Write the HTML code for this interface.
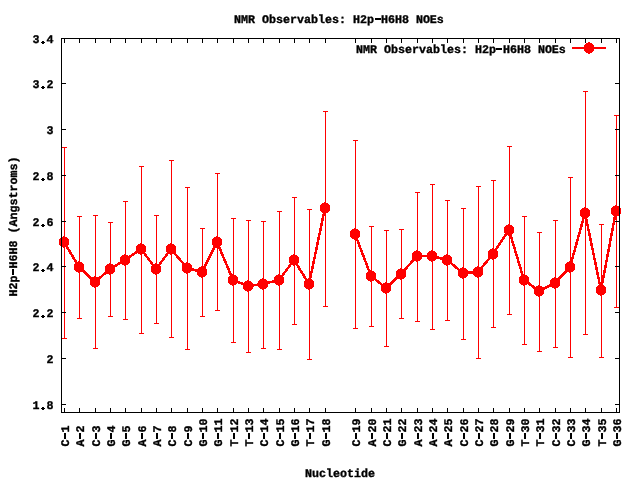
<!DOCTYPE html><html><head><meta charset="utf-8"><style>html,body{margin:0;padding:0;background:#fff;width:640px;height:480px;overflow:hidden}svg{display:block;will-change:transform}text{font-family:"Liberation Mono",monospace;font-weight:bold;font-size:11.67px;text-rendering:geometricPrecision;fill:#000;stroke:#000;stroke-width:0.35px}.h{fill:transparent;stroke:transparent}</style></head><body>
<svg width="640" height="480" viewBox="0 0 640 480">
<rect width="640" height="480" fill="#fff"/>
<path d="M64.5 147.5V338.5M62 147.5H67M62 338.5H67M79.5 216.5V318.5M77 216.5H82M77 318.5H82M95.5 215.5V348.5M93 215.5H98M93 348.5H98M110.5 222.5V316.5M108 222.5H113M108 316.5H113M125.5 201.5V319.5M123 201.5H128M123 319.5H128M141.5 166.5V333.5M139 166.5H144M139 333.5H144M156.5 215.5V323.5M154 215.5H159M154 323.5H159M171.5 160.5V337.5M169 160.5H174M169 337.5H174M187.5 187.5V349.5M185 187.5H190M185 349.5H190M202.5 228.5V316.5M200 228.5H205M200 316.5H205M217.5 173.5V310.5M215 173.5H220M215 310.5H220M233.5 218.5V342.5M231 218.5H236M231 342.5H236M248.5 220.5V352.5M246 220.5H251M246 352.5H251M263.5 221.5V348.5M261 221.5H266M261 348.5H266M279.5 211.5V349.5M277 211.5H282M277 349.5H282M294.5 197.5V324.5M292 197.5H297M292 324.5H297M309.5 209.5V359.5M307 209.5H312M307 359.5H312M325.5 111.5V306.5M323 111.5H328M323 306.5H328M355.5 140.5V328.5M353 140.5H358M353 328.5H358M371.5 226.5V326.5M369 226.5H374M369 326.5H374M386.5 230.5V346.5M384 230.5H389M384 346.5H389M401.5 229.5V318.5M399 229.5H404M399 318.5H404M417.5 192.5V321.5M415 192.5H420M415 321.5H420M432.5 184.5V329.5M430 184.5H435M430 329.5H435M447.5 200.5V320.5M445 200.5H450M445 320.5H450M463.5 208.5V339.5M461 208.5H466M461 339.5H466M478.5 186.5V358.5M476 186.5H481M476 358.5H481M493.5 180.5V327.5M491 180.5H496M491 327.5H496M509.5 146.5V314.5M507 146.5H512M507 314.5H512M524.5 216.5V344.5M522 216.5H527M522 344.5H527M539.5 232.5V351.5M537 232.5H542M537 351.5H542M555.5 220.5V347.5M553 220.5H558M553 347.5H558M570.5 177.5V357.5M568 177.5H573M568 357.5H573M585.5 91.5V334.5M583 91.5H588M583 334.5H588M601.5 224.5V357.5M599 224.5H604M599 357.5H604M616.5 115.5V307.5M614 115.5H619M614 307.5H619" stroke="#f00" stroke-width="1" fill="none" shape-rendering="crispEdges"/>
<polyline points="64,242 79,267 95,282 110,269 125,260 141,249 156,269 171,249 187,268 202,272 217,242 233,280 248,286 263,284 279,280 294,260 309,284 325,208" stroke="#f00" stroke-width="2.5" fill="none" stroke-linejoin="miter" shape-rendering="crispEdges"/>
<polyline points="355,234 371,276 386,288 401,274 417,256 432,256 447,260 463,273 478,272 493,254 509,230 524,280 539,291 555,283 570,267 585,213 601,290 616,211" stroke="#f00" stroke-width="2.5" fill="none" stroke-linejoin="miter" shape-rendering="crispEdges"/>
<path d="M63 236L65 236L65 237L67 237L67 238L68 238L68 239L69 239L69 245L68 245L68 246L67 246L67 247L65 247L65 248L63 248L63 247L61 247L61 246L60 246L60 245L59 245L59 239L60 239L60 238L61 238L61 237L63 237ZM78 261L80 261L80 262L82 262L82 263L83 263L83 264L84 264L84 270L83 270L83 271L82 271L82 272L80 272L80 273L78 273L78 272L76 272L76 271L75 271L75 270L74 270L74 264L75 264L75 263L76 263L76 262L78 262ZM94 276L96 276L96 277L98 277L98 278L99 278L99 279L100 279L100 285L99 285L99 286L98 286L98 287L96 287L96 288L94 288L94 287L92 287L92 286L91 286L91 285L90 285L90 279L91 279L91 278L92 278L92 277L94 277ZM109 263L111 263L111 264L113 264L113 265L114 265L114 266L115 266L115 272L114 272L114 273L113 273L113 274L111 274L111 275L109 275L109 274L107 274L107 273L106 273L106 272L105 272L105 266L106 266L106 265L107 265L107 264L109 264ZM124 254L126 254L126 255L128 255L128 256L129 256L129 257L130 257L130 263L129 263L129 264L128 264L128 265L126 265L126 266L124 266L124 265L122 265L122 264L121 264L121 263L120 263L120 257L121 257L121 256L122 256L122 255L124 255ZM140 243L142 243L142 244L144 244L144 245L145 245L145 246L146 246L146 252L145 252L145 253L144 253L144 254L142 254L142 255L140 255L140 254L138 254L138 253L137 253L137 252L136 252L136 246L137 246L137 245L138 245L138 244L140 244ZM155 263L157 263L157 264L159 264L159 265L160 265L160 266L161 266L161 272L160 272L160 273L159 273L159 274L157 274L157 275L155 275L155 274L153 274L153 273L152 273L152 272L151 272L151 266L152 266L152 265L153 265L153 264L155 264ZM170 243L172 243L172 244L174 244L174 245L175 245L175 246L176 246L176 252L175 252L175 253L174 253L174 254L172 254L172 255L170 255L170 254L168 254L168 253L167 253L167 252L166 252L166 246L167 246L167 245L168 245L168 244L170 244ZM186 262L188 262L188 263L190 263L190 264L191 264L191 265L192 265L192 271L191 271L191 272L190 272L190 273L188 273L188 274L186 274L186 273L184 273L184 272L183 272L183 271L182 271L182 265L183 265L183 264L184 264L184 263L186 263ZM201 266L203 266L203 267L205 267L205 268L206 268L206 269L207 269L207 275L206 275L206 276L205 276L205 277L203 277L203 278L201 278L201 277L199 277L199 276L198 276L198 275L197 275L197 269L198 269L198 268L199 268L199 267L201 267ZM216 236L218 236L218 237L220 237L220 238L221 238L221 239L222 239L222 245L221 245L221 246L220 246L220 247L218 247L218 248L216 248L216 247L214 247L214 246L213 246L213 245L212 245L212 239L213 239L213 238L214 238L214 237L216 237ZM232 274L234 274L234 275L236 275L236 276L237 276L237 277L238 277L238 283L237 283L237 284L236 284L236 285L234 285L234 286L232 286L232 285L230 285L230 284L229 284L229 283L228 283L228 277L229 277L229 276L230 276L230 275L232 275ZM247 280L249 280L249 281L251 281L251 282L252 282L252 283L253 283L253 289L252 289L252 290L251 290L251 291L249 291L249 292L247 292L247 291L245 291L245 290L244 290L244 289L243 289L243 283L244 283L244 282L245 282L245 281L247 281ZM262 278L264 278L264 279L266 279L266 280L267 280L267 281L268 281L268 287L267 287L267 288L266 288L266 289L264 289L264 290L262 290L262 289L260 289L260 288L259 288L259 287L258 287L258 281L259 281L259 280L260 280L260 279L262 279ZM278 274L280 274L280 275L282 275L282 276L283 276L283 277L284 277L284 283L283 283L283 284L282 284L282 285L280 285L280 286L278 286L278 285L276 285L276 284L275 284L275 283L274 283L274 277L275 277L275 276L276 276L276 275L278 275ZM293 254L295 254L295 255L297 255L297 256L298 256L298 257L299 257L299 263L298 263L298 264L297 264L297 265L295 265L295 266L293 266L293 265L291 265L291 264L290 264L290 263L289 263L289 257L290 257L290 256L291 256L291 255L293 255ZM308 278L310 278L310 279L312 279L312 280L313 280L313 281L314 281L314 287L313 287L313 288L312 288L312 289L310 289L310 290L308 290L308 289L306 289L306 288L305 288L305 287L304 287L304 281L305 281L305 280L306 280L306 279L308 279ZM324 202L326 202L326 203L328 203L328 204L329 204L329 205L330 205L330 211L329 211L329 212L328 212L328 213L326 213L326 214L324 214L324 213L322 213L322 212L321 212L321 211L320 211L320 205L321 205L321 204L322 204L322 203L324 203ZM354 228L356 228L356 229L358 229L358 230L359 230L359 231L360 231L360 237L359 237L359 238L358 238L358 239L356 239L356 240L354 240L354 239L352 239L352 238L351 238L351 237L350 237L350 231L351 231L351 230L352 230L352 229L354 229ZM370 270L372 270L372 271L374 271L374 272L375 272L375 273L376 273L376 279L375 279L375 280L374 280L374 281L372 281L372 282L370 282L370 281L368 281L368 280L367 280L367 279L366 279L366 273L367 273L367 272L368 272L368 271L370 271ZM385 282L387 282L387 283L389 283L389 284L390 284L390 285L391 285L391 291L390 291L390 292L389 292L389 293L387 293L387 294L385 294L385 293L383 293L383 292L382 292L382 291L381 291L381 285L382 285L382 284L383 284L383 283L385 283ZM400 268L402 268L402 269L404 269L404 270L405 270L405 271L406 271L406 277L405 277L405 278L404 278L404 279L402 279L402 280L400 280L400 279L398 279L398 278L397 278L397 277L396 277L396 271L397 271L397 270L398 270L398 269L400 269ZM416 250L418 250L418 251L420 251L420 252L421 252L421 253L422 253L422 259L421 259L421 260L420 260L420 261L418 261L418 262L416 262L416 261L414 261L414 260L413 260L413 259L412 259L412 253L413 253L413 252L414 252L414 251L416 251ZM431 250L433 250L433 251L435 251L435 252L436 252L436 253L437 253L437 259L436 259L436 260L435 260L435 261L433 261L433 262L431 262L431 261L429 261L429 260L428 260L428 259L427 259L427 253L428 253L428 252L429 252L429 251L431 251ZM446 254L448 254L448 255L450 255L450 256L451 256L451 257L452 257L452 263L451 263L451 264L450 264L450 265L448 265L448 266L446 266L446 265L444 265L444 264L443 264L443 263L442 263L442 257L443 257L443 256L444 256L444 255L446 255ZM462 267L464 267L464 268L466 268L466 269L467 269L467 270L468 270L468 276L467 276L467 277L466 277L466 278L464 278L464 279L462 279L462 278L460 278L460 277L459 277L459 276L458 276L458 270L459 270L459 269L460 269L460 268L462 268ZM477 266L479 266L479 267L481 267L481 268L482 268L482 269L483 269L483 275L482 275L482 276L481 276L481 277L479 277L479 278L477 278L477 277L475 277L475 276L474 276L474 275L473 275L473 269L474 269L474 268L475 268L475 267L477 267ZM492 248L494 248L494 249L496 249L496 250L497 250L497 251L498 251L498 257L497 257L497 258L496 258L496 259L494 259L494 260L492 260L492 259L490 259L490 258L489 258L489 257L488 257L488 251L489 251L489 250L490 250L490 249L492 249ZM508 224L510 224L510 225L512 225L512 226L513 226L513 227L514 227L514 233L513 233L513 234L512 234L512 235L510 235L510 236L508 236L508 235L506 235L506 234L505 234L505 233L504 233L504 227L505 227L505 226L506 226L506 225L508 225ZM523 274L525 274L525 275L527 275L527 276L528 276L528 277L529 277L529 283L528 283L528 284L527 284L527 285L525 285L525 286L523 286L523 285L521 285L521 284L520 284L520 283L519 283L519 277L520 277L520 276L521 276L521 275L523 275ZM538 285L540 285L540 286L542 286L542 287L543 287L543 288L544 288L544 294L543 294L543 295L542 295L542 296L540 296L540 297L538 297L538 296L536 296L536 295L535 295L535 294L534 294L534 288L535 288L535 287L536 287L536 286L538 286ZM554 277L556 277L556 278L558 278L558 279L559 279L559 280L560 280L560 286L559 286L559 287L558 287L558 288L556 288L556 289L554 289L554 288L552 288L552 287L551 287L551 286L550 286L550 280L551 280L551 279L552 279L552 278L554 278ZM569 261L571 261L571 262L573 262L573 263L574 263L574 264L575 264L575 270L574 270L574 271L573 271L573 272L571 272L571 273L569 273L569 272L567 272L567 271L566 271L566 270L565 270L565 264L566 264L566 263L567 263L567 262L569 262ZM584 207L586 207L586 208L588 208L588 209L589 209L589 210L590 210L590 216L589 216L589 217L588 217L588 218L586 218L586 219L584 219L584 218L582 218L582 217L581 217L581 216L580 216L580 210L581 210L581 209L582 209L582 208L584 208ZM600 284L602 284L602 285L604 285L604 286L605 286L605 287L606 287L606 293L605 293L605 294L604 294L604 295L602 295L602 296L600 296L600 295L598 295L598 294L597 294L597 293L596 293L596 287L597 287L597 286L598 286L598 285L600 285ZM615 205L617 205L617 206L619 206L619 207L620 207L620 208L621 208L621 214L620 214L620 215L619 215L619 216L617 216L617 217L615 217L615 216L613 216L613 215L612 215L612 214L611 214L611 208L612 208L612 207L613 207L613 206L615 206Z" fill="#f00" shape-rendering="crispEdges"/>
<path d="M572 48H606" stroke="#f00" stroke-width="2" shape-rendering="crispEdges"/>
<path d="M588 42L590 42L590 43L592 43L592 44L593 44L593 45L594 45L594 51L593 51L593 52L592 52L592 53L590 53L590 54L588 54L588 53L586 53L586 52L585 52L585 51L584 51L584 45L585 45L585 44L586 44L586 43L588 43Z" fill="#f00" shape-rendering="crispEdges"/>
<path d="M61.5 38.5H619.5V412.5H61.5ZM62 38.5H66M615 38.5H619M62 83.5H66M615 83.5H619M62 129.5H66M615 129.5H619M62 175.5H66M615 175.5H619M62 221.5H66M615 221.5H619M62 266.5H66M615 266.5H619M62 312.5H66M615 312.5H619M62 358.5H66M615 358.5H619M62 404.5H66M615 404.5H619M64.5 39V43M64.5 408V412M79.5 39V43M79.5 408V412M95.5 39V43M95.5 408V412M110.5 39V43M110.5 408V412M125.5 39V43M125.5 408V412M141.5 39V43M141.5 408V412M156.5 39V43M156.5 408V412M171.5 39V43M171.5 408V412M187.5 39V43M187.5 408V412M202.5 39V43M202.5 408V412M217.5 39V43M217.5 408V412M233.5 39V43M233.5 408V412M248.5 39V43M248.5 408V412M263.5 39V43M263.5 408V412M279.5 39V43M279.5 408V412M294.5 39V43M294.5 408V412M309.5 39V43M309.5 408V412M325.5 39V43M325.5 408V412M355.5 39V43M355.5 408V412M371.5 39V43M371.5 408V412M386.5 39V43M386.5 408V412M401.5 39V43M401.5 408V412M417.5 39V43M417.5 408V412M432.5 39V43M432.5 408V412M447.5 39V43M447.5 408V412M463.5 39V43M463.5 408V412M478.5 39V43M478.5 408V412M493.5 39V43M493.5 408V412M509.5 39V43M509.5 408V412M524.5 39V43M524.5 408V412M539.5 39V43M539.5 408V412M555.5 39V43M555.5 408V412M570.5 39V43M570.5 408V412M585.5 39V43M585.5 408V412M601.5 39V43M601.5 408V412M616.5 39V43M616.5 408V412" stroke="#000" stroke-width="1" fill="none" shape-rendering="crispEdges"/>
<text x="234" y="23">NMR Observables: H2p<tspan class="h">-</tspan>H6H8 NOEs</text>
<text x="356" y="53">NMR Observables: H2p<tspan class="h">-</tspan>H6H8 NOEs</text>
<text x="53.6" y="43" text-anchor="end">3<tspan class="h">.</tspan>4</text>
<text x="53.6" y="88" text-anchor="end">3<tspan class="h">.</tspan>2</text>
<text x="53.6" y="134" text-anchor="end">3</text>
<text x="53.6" y="180" text-anchor="end">2<tspan class="h">.</tspan>8</text>
<text x="53.6" y="226" text-anchor="end">2<tspan class="h">.</tspan>6</text>
<text x="53.6" y="271" text-anchor="end">2<tspan class="h">.</tspan>4</text>
<text x="53.6" y="317" text-anchor="end">2<tspan class="h">.</tspan>2</text>
<text x="53.6" y="363" text-anchor="end">2</text>
<text x="53.6" y="409" text-anchor="end">1<tspan class="h">.</tspan>8</text>
<text transform="translate(68.5 446.5) rotate(-90)">C<tspan class="h">-</tspan>1</text>
<text transform="translate(83.5 446.5) rotate(-90)">A<tspan class="h">-</tspan>2</text>
<text transform="translate(99.5 446.5) rotate(-90)">C<tspan class="h">-</tspan>3</text>
<text transform="translate(114.5 446.5) rotate(-90)">G<tspan class="h">-</tspan>4</text>
<text transform="translate(129.5 446.5) rotate(-90)">G<tspan class="h">-</tspan>5</text>
<text transform="translate(145.5 446.5) rotate(-90)">A<tspan class="h">-</tspan>6</text>
<text transform="translate(160.5 446.5) rotate(-90)">A<tspan class="h">-</tspan>7</text>
<text transform="translate(175.5 446.5) rotate(-90)">C<tspan class="h">-</tspan>8</text>
<text transform="translate(191.5 446.5) rotate(-90)">C<tspan class="h">-</tspan>9</text>
<text transform="translate(206.5 446.5) rotate(-90)">G<tspan class="h">-</tspan>10</text>
<text transform="translate(221.5 446.5) rotate(-90)">G<tspan class="h">-</tspan>11</text>
<text transform="translate(237.5 446.5) rotate(-90)">T<tspan class="h">-</tspan>12</text>
<text transform="translate(252.5 446.5) rotate(-90)">T<tspan class="h">-</tspan>13</text>
<text transform="translate(267.5 446.5) rotate(-90)">C<tspan class="h">-</tspan>14</text>
<text transform="translate(283.5 446.5) rotate(-90)">C<tspan class="h">-</tspan>15</text>
<text transform="translate(298.5 446.5) rotate(-90)">G<tspan class="h">-</tspan>16</text>
<text transform="translate(313.5 446.5) rotate(-90)">T<tspan class="h">-</tspan>17</text>
<text transform="translate(329.5 446.5) rotate(-90)">G<tspan class="h">-</tspan>18</text>
<text transform="translate(359.5 446.5) rotate(-90)">C<tspan class="h">-</tspan>19</text>
<text transform="translate(375.5 446.5) rotate(-90)">A<tspan class="h">-</tspan>20</text>
<text transform="translate(390.5 446.5) rotate(-90)">C<tspan class="h">-</tspan>21</text>
<text transform="translate(405.5 446.5) rotate(-90)">G<tspan class="h">-</tspan>22</text>
<text transform="translate(421.5 446.5) rotate(-90)">A<tspan class="h">-</tspan>23</text>
<text transform="translate(436.5 446.5) rotate(-90)">A<tspan class="h">-</tspan>24</text>
<text transform="translate(451.5 446.5) rotate(-90)">A<tspan class="h">-</tspan>25</text>
<text transform="translate(467.5 446.5) rotate(-90)">C<tspan class="h">-</tspan>26</text>
<text transform="translate(482.5 446.5) rotate(-90)">C<tspan class="h">-</tspan>27</text>
<text transform="translate(497.5 446.5) rotate(-90)">G<tspan class="h">-</tspan>28</text>
<text transform="translate(513.5 446.5) rotate(-90)">G<tspan class="h">-</tspan>29</text>
<text transform="translate(528.5 446.5) rotate(-90)">T<tspan class="h">-</tspan>30</text>
<text transform="translate(543.5 446.5) rotate(-90)">T<tspan class="h">-</tspan>31</text>
<text transform="translate(559.5 446.5) rotate(-90)">C<tspan class="h">-</tspan>32</text>
<text transform="translate(574.5 446.5) rotate(-90)">C<tspan class="h">-</tspan>33</text>
<text transform="translate(589.5 446.5) rotate(-90)">G<tspan class="h">-</tspan>34</text>
<text transform="translate(605.5 446.5) rotate(-90)">T<tspan class="h">-</tspan>35</text>
<text transform="translate(620.5 446.5) rotate(-90)">G<tspan class="h">-</tspan>36</text>
<text x="340" y="477" text-anchor="middle">Nucleotide</text>
<text transform="translate(17 226.5) rotate(-90)" text-anchor="middle">H2p<tspan class="h">-</tspan>H6H8 (Angstroms)</text>
<path d="M375 18h6v2h-6zM496 48h6v2h-6zM42 41h2v3h-2zM41 42h4v1h-4zM42 86h2v3h-2zM41 87h4v1h-4zM42 178h2v3h-2zM41 179h4v1h-4zM42 224h2v3h-2zM41 225h4v1h-4zM42 269h2v3h-2zM41 270h4v1h-4zM42 315h2v3h-2zM41 316h4v1h-4zM42 407h2v3h-2zM41 408h4v1h-4zM64 433h2v6h-2zM79 433h2v6h-2zM95 433h2v6h-2zM110 433h2v6h-2zM125 433h2v6h-2zM141 433h2v6h-2zM156 433h2v6h-2zM171 433h2v6h-2zM187 433h2v6h-2zM202 433h2v6h-2zM217 433h2v6h-2zM233 433h2v6h-2zM248 433h2v6h-2zM263 433h2v6h-2zM279 433h2v6h-2zM294 433h2v6h-2zM309 433h2v6h-2zM325 433h2v6h-2zM355 433h2v6h-2zM371 433h2v6h-2zM386 433h2v6h-2zM401 433h2v6h-2zM417 433h2v6h-2zM432 433h2v6h-2zM447 433h2v6h-2zM463 433h2v6h-2zM478 433h2v6h-2zM493 433h2v6h-2zM509 433h2v6h-2zM524 433h2v6h-2zM539 433h2v6h-2zM555 433h2v6h-2zM570 433h2v6h-2zM585 433h2v6h-2zM601 433h2v6h-2zM616 433h2v6h-2zM12 269h2v6h-2z" fill="#000" shape-rendering="crispEdges"/>
</svg></body></html>
